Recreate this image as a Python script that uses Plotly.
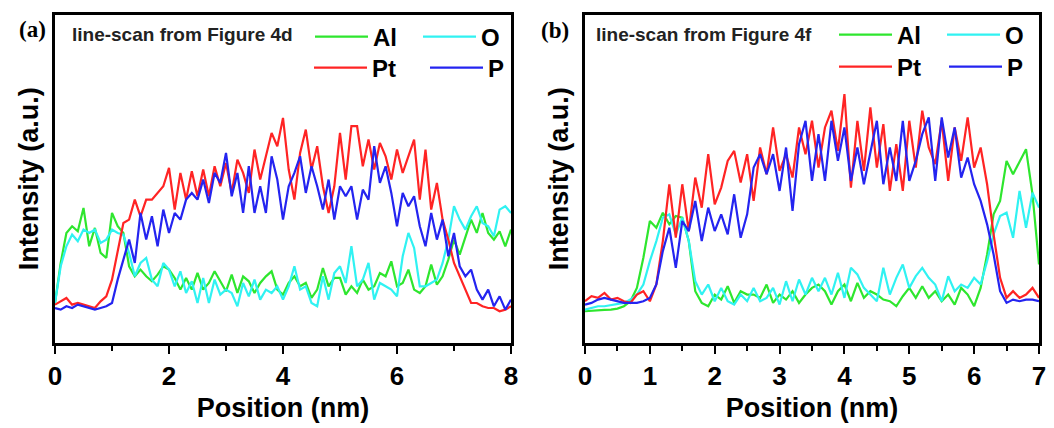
import numpy as np
import plotly.graph_objects as go

W, H = 1054, 428

# ---------------- data (arbitrary intensity units) ----------------
pos_a = np.round(np.arange(0, 81) * 0.1, 2)   # Position (nm), panel (a)
pos_b = np.round(np.arange(0, 71) * 0.1, 2)   # Position (nm), panel (b)

al_a = [120, 240, 330, 350, 335, 405, 290, 345, 270, 255,
        390, 350, 330, 230, 200, 220, 200, 185, 205, 230,
        220, 195, 160, 195, 160, 210, 160, 180, 215, 185,
        155, 205, 150, 200, 185, 150, 180, 200, 215, 160,
        145, 180, 200, 170, 180, 135, 160, 225, 170, 195,
        195, 145, 170, 150, 190, 160, 170, 210, 200, 245,
        170, 180, 220, 160, 150, 170, 235, 175, 200, 250,
        310, 265, 320, 370, 330, 390, 330, 310, 335, 290, 340]
o_a = [120, 230, 290, 325, 305, 340, 330, 340, 300, 310,
       340, 330, 325, 270, 200, 240, 255, 190, 170, 240,
       220, 170, 215, 150, 185, 120, 195, 120, 190, 145,
       160, 150, 110, 180, 140, 190, 130, 160, 150, 170,
       130, 170, 230, 160, 170, 120, 110, 200, 130, 210,
       230, 180, 290, 170, 190, 240, 130, 180, 170, 160,
       140, 260, 330, 285, 170, 170, 180, 190, 240, 310,
       410, 370, 340, 380, 410, 360, 350, 320, 400, 410, 390]
pt_a = [115, 125, 135, 115, 120, 115, 110, 105, 125, 140,
        190, 270, 360, 370, 430, 380, 430, 430, 450, 470,
        525, 400, 510, 430, 515, 440, 520, 440, 530, 470,
        540, 450, 550, 510, 450, 580, 490, 560, 630, 590,
        675, 520, 430, 570, 640, 520, 590, 470, 390, 470,
        630, 490, 650, 650, 530, 610, 520, 600, 560, 490,
        580, 510, 560, 610, 430, 580, 400, 480, 370, 310,
        240, 200, 160, 120, 120, 110, 105, 105, 95, 100, 110]
p_a = [105, 100, 110, 105, 115, 110, 105, 100, 105, 110,
       120, 190, 250, 310, 240, 390, 310, 380, 290, 400,
       330, 390, 370, 430, 450, 430, 490, 420, 510, 480,
       570, 440, 510, 390, 530, 390, 470, 390, 560, 490,
       370, 470, 510, 560, 450, 530, 470, 400, 490, 370,
       470, 440, 470, 370, 460, 430, 590, 480, 530, 450,
       350, 450, 410, 440, 350, 290, 390, 310, 370, 260,
       330, 230, 200, 220, 160, 130, 160, 110, 140, 100, 130]

al_b = [95, 97, 97, 99, 100, 103, 110, 125, 165, 255,
        365, 345, 390, 355, 380, 375, 305, 155, 120, 110,
        145, 130, 170, 120, 155, 145, 145, 135, 175, 120,
        145, 130, 155, 120, 145, 165, 175, 155, 115, 155,
        175, 125, 180, 135, 155, 145, 130, 125, 110, 140,
        165, 135, 170, 135, 155, 125, 145, 115, 165, 145,
        110, 165, 265, 385, 425, 545, 505, 545, 580, 445, 235]
o_b = [100, 105, 110, 110, 113, 115, 120, 130, 145, 175,
       245, 305, 375, 385, 325, 375, 305, 185, 145, 175,
       125, 165, 125, 115, 145, 125, 165, 125, 135, 165,
       115, 185, 125, 190, 145, 195, 155, 195, 145, 210,
       135, 225, 205, 165, 145, 125, 225, 145, 195, 235,
       165, 200, 225, 195, 175, 125, 200, 155, 175, 165,
       195, 175, 245, 325, 380, 390, 315, 455, 345, 450, 405]
pt_b = [125, 140, 135, 150, 130, 135, 125, 120, 145, 155,
        125, 175, 305, 475, 315, 475, 335, 495, 405, 565,
        415, 465, 545, 575, 480, 565, 425, 585, 505, 645,
        515, 565, 495, 645, 565, 665, 525, 645, 695, 575,
        745, 465, 665, 515, 705, 525, 655, 455, 595, 455,
        665, 525, 695, 585, 535, 665, 485, 645, 545, 675,
        525, 585, 475, 325, 195, 135, 155, 135, 145, 165, 135]
p_b = [115, 120, 130, 135, 130, 125, 120, 120, 120, 125,
       135, 175, 275, 345, 225, 365, 335, 425, 305, 405,
       335, 385, 325, 445, 315, 385, 525, 565, 505, 565,
       455, 585, 395, 595, 665, 485, 625, 485, 665, 545,
       645, 485, 585, 475, 565, 665, 475, 585, 485, 665,
       485, 545, 625, 675, 485, 675, 555, 645, 495, 555,
       475, 425, 355, 265, 155, 120, 130, 125, 130, 130, 125]

elements = ["Al", "O", "Pt", "P"]
colors = {"Al": "#2ee62e", "O": "#30f2f2", "Pt": "#ff2424", "P": "#2424f0"}
panel_a = {"Al": al_a, "O": o_a, "Pt": pt_a, "P": p_a}
panel_b = {"Al": al_b, "O": o_b, "Pt": pt_b, "P": p_b}

# legend anchor points (px): start of the sample line, row centre
leg_pos_a = {"Al": (315, 37), "O": (423, 37), "Pt": (314, 68), "P": (430, 68)}
leg_pos_b = {"Al": (839, 35), "O": (947, 35), "Pt": (839, 67), "P": (949, 67)}

FONT = "Liberation Sans, Arial, sans-serif"

fig = go.Figure()
layout_legends = {}
k = 1
for panel, xs, data, lp in (("a", pos_a, panel_a, leg_pos_a),
                            ("b", pos_b, panel_b, leg_pos_b)):
    xa = "x" if panel == "a" else "x2"
    ya = "y" if panel == "a" else "y2"
    for el in elements:
        lname = "legend" if k == 1 else f"legend{k}"
        fig.add_trace(go.Scatter(
            x=xs, y=data[el], mode="lines", name=el,
            line=dict(color=colors[el], width=2.2),
            xaxis=xa, yaxis=ya, legend=lname, showlegend=True))
        px, py = lp[el]
        layout_legends[lname] = dict(
            x=(px - 5) / W, y=1 - py / H, xanchor="left", yanchor="middle",
            xref="paper", yref="paper",
            bgcolor="rgba(0,0,0,0)", borderwidth=0, itemwidth=53,
            font=dict(family=FONT, size=24, color="black", weight="bold"))
        k += 1

ydom = [1 - 343 / H, 1 - 14.5 / H]
axis_common = dict(showline=True, linewidth=3, linecolor="black", mirror=True,
                   showgrid=False, zeroline=False)
xtick = dict(ticks="outside", ticklen=8, tickwidth=2, tickcolor="black",
             tickfont=dict(family=FONT, size=26, color="black", weight="bold"),
             minor=dict(ticks="outside", ticklen=5, tickwidth=2, tickcolor="black"))
xtitle = dict(text="Position (nm)",
              font=dict(family=FONT, size=27, color="black", weight="bold"),
              standoff=8)
ytitle = dict(text="Intensity (a.u.)",
              font=dict(family=FONT, size=27, color="black", weight="bold"),
              standoff=6)

fig.update_layout(
    width=W, height=H,
    margin=dict(l=0, r=0, t=0, b=0, autoexpand=False),
    paper_bgcolor="white", plot_bgcolor="white",
    xaxis=dict(domain=[55 / W, 511 / W], range=[0, 8], tick0=0, dtick=2,
               **xtick, **axis_common, title=xtitle, anchor="y"),
    xaxis2=dict(domain=[585 / W, 1039 / W], range=[0, 7], tick0=0, dtick=1,
                **xtick, **axis_common, title=xtitle, anchor="y2"),
    yaxis=dict(domain=ydom, range=[0, 985], showticklabels=False, ticks="",
               **axis_common, title=ytitle, anchor="x"),
    yaxis2=dict(domain=ydom, range=[0, 983], showticklabels=False, ticks="",
                **axis_common, title=ytitle, anchor="x2"),
    **layout_legends,
)
fig.update_layout(xaxis_minor_dtick=1, xaxis2_minor_dtick=0.5)

ann_font = dict(family=FONT, size=19, color="#222222", weight="bold")
panel_font = dict(family="Liberation Serif, Times New Roman, serif", size=23,
                  color="black", weight="bold")
fig.add_annotation(text="line-scan from Figure 4d", x=70 / W, y=1 - 35 / H,
                   xref="paper", yref="paper", xanchor="left", yanchor="middle",
                   showarrow=False, font=ann_font)
fig.add_annotation(text="line-scan from Figure 4f", x=594 / W, y=1 - 35 / H,
                   xref="paper", yref="paper", xanchor="left", yanchor="middle",
                   showarrow=False, font=ann_font)
fig.add_annotation(text="(a)", x=32 / W, y=1 - 29 / H, xref="paper", yref="paper",
                   xanchor="center", yanchor="middle", showarrow=False, font=panel_font)
fig.add_annotation(text="(b)", x=555 / W, y=1 - 31 / H, xref="paper", yref="paper",
                   xanchor="center", yanchor="middle", showarrow=False, font=panel_font)

fig.write_html("out.html", config={"displayModeBar": False},
               post_script="document.body.style.margin='0';document.body.style.overflow='hidden';")
